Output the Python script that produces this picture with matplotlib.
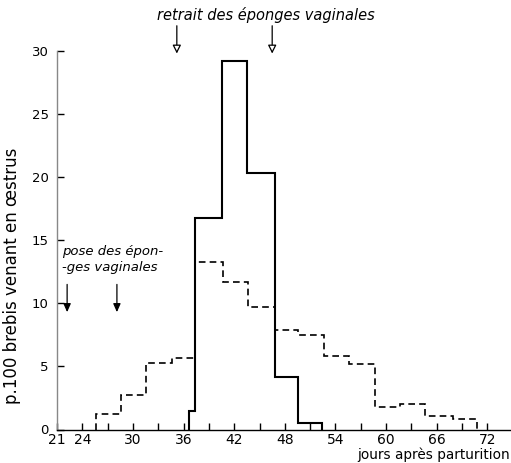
import matplotlib
matplotlib.use("Agg")
import matplotlib.pyplot as plt
import numpy as np

# Data
solid_edges = [36.7, 37.4, 40.6, 43.5, 46.8, 49.6, 52.4]
solid_values = [1.5, 16.8, 29.2, 20.3, 4.2, 0.5]

dashed_edges = [25.6, 28.6, 31.5, 34.6, 37.4, 40.7, 43.6, 46.8, 49.6, 52.6,
                55.6, 58.7, 61.6, 64.6, 67.9, 70.8]
dashed_values = [1.2, 2.7, 5.3, 5.7, 13.25, 11.7, 9.7, 7.9, 7.5, 5.8,
                 5.2, 1.8, 2.0, 1.1, 0.85]

x_ticks = list(range(21, 75, 3))
x_labels_shown = [21, 24, 30, 36, 42, 48, 54, 60, 66, 72]
y_ticks = [0, 5, 10, 15, 20, 25, 30]

retrait_days = [35.2, 46.5]
pose_days = [22.2, 28.1]

W, H = 511, 463
fig = plt.figure(figsize=(W / 100, H / 100), dpi=100)
ax = fig.add_axes([57 / W, (H - 429.5) / H, 454 / W, (429.5 - 51) / H])
ax.set_xlim(21, 74.8)
ax.set_ylim(0, 30)

ax.stairs(dashed_values, dashed_edges, baseline=0, color="black", lw=1.2,
          linestyle=(0, (4, 2.5)))
ax.stairs(solid_values, solid_edges, baseline=0, color="black", lw=1.5)

for s in ["top", "right"]:
    ax.spines[s].set_visible(False)
ax.spines["left"].set_color("#888888")
ax.spines["left"].set_linewidth(1.0)
ax.spines["bottom"].set_color("black")
ax.spines["bottom"].set_linewidth(1.0)

ax.set_xticks(x_ticks)
ax.set_xticklabels([str(t) if t in x_labels_shown else "" for t in x_ticks],
                   fontsize=10)
ax.set_yticks(y_ticks)
ax.set_yticklabels([str(t) for t in y_ticks], fontsize=9.5)
ax.tick_params(axis="x", direction="in", length=5, width=1, pad=2.5)
ax.tick_params(axis="y", direction="in", length=5, width=1, pad=6)

ax.set_ylabel("p.100 brebis venant en œstrus", fontsize=12)
ax.yaxis.set_label_coords(-0.08, 0.405)

fig.text(510 / W, 0.5 / H, "jours après parturition", fontsize=9.8,
         ha="right", va="bottom")

# retrait annotation
fig.text(266 / W, 1 - 15 / H, "retrait des éponges vaginales", fontsize=10.5,
         style="italic", ha="center", va="center")
for d in retrait_days:
    ax.annotate("", xy=(d, 29.8), xytext=(d, 32.0), xycoords="data",
                annotation_clip=False,
                arrowprops=dict(arrowstyle="-|>,head_length=0.5,head_width=0.25",
                                facecolor="white", edgecolor="black", lw=0.9,
                                shrinkA=0, shrinkB=0))

# pose annotation
ax.text(21.6, 13.5, "pose des épon-\n-ges vaginales", fontsize=9.5,
        style="italic", ha="left", va="center", linespacing=1.3)
for d in pose_days:
    ax.annotate("", xy=(d, 9.3), xytext=(d, 11.5), xycoords="data",
                annotation_clip=False,
                arrowprops=dict(arrowstyle="-|>,head_length=0.5,head_width=0.22",
                                facecolor="black", edgecolor="black", lw=0.9,
                                shrinkA=0, shrinkB=0))

fig.savefig("out.png", dpi=100)
